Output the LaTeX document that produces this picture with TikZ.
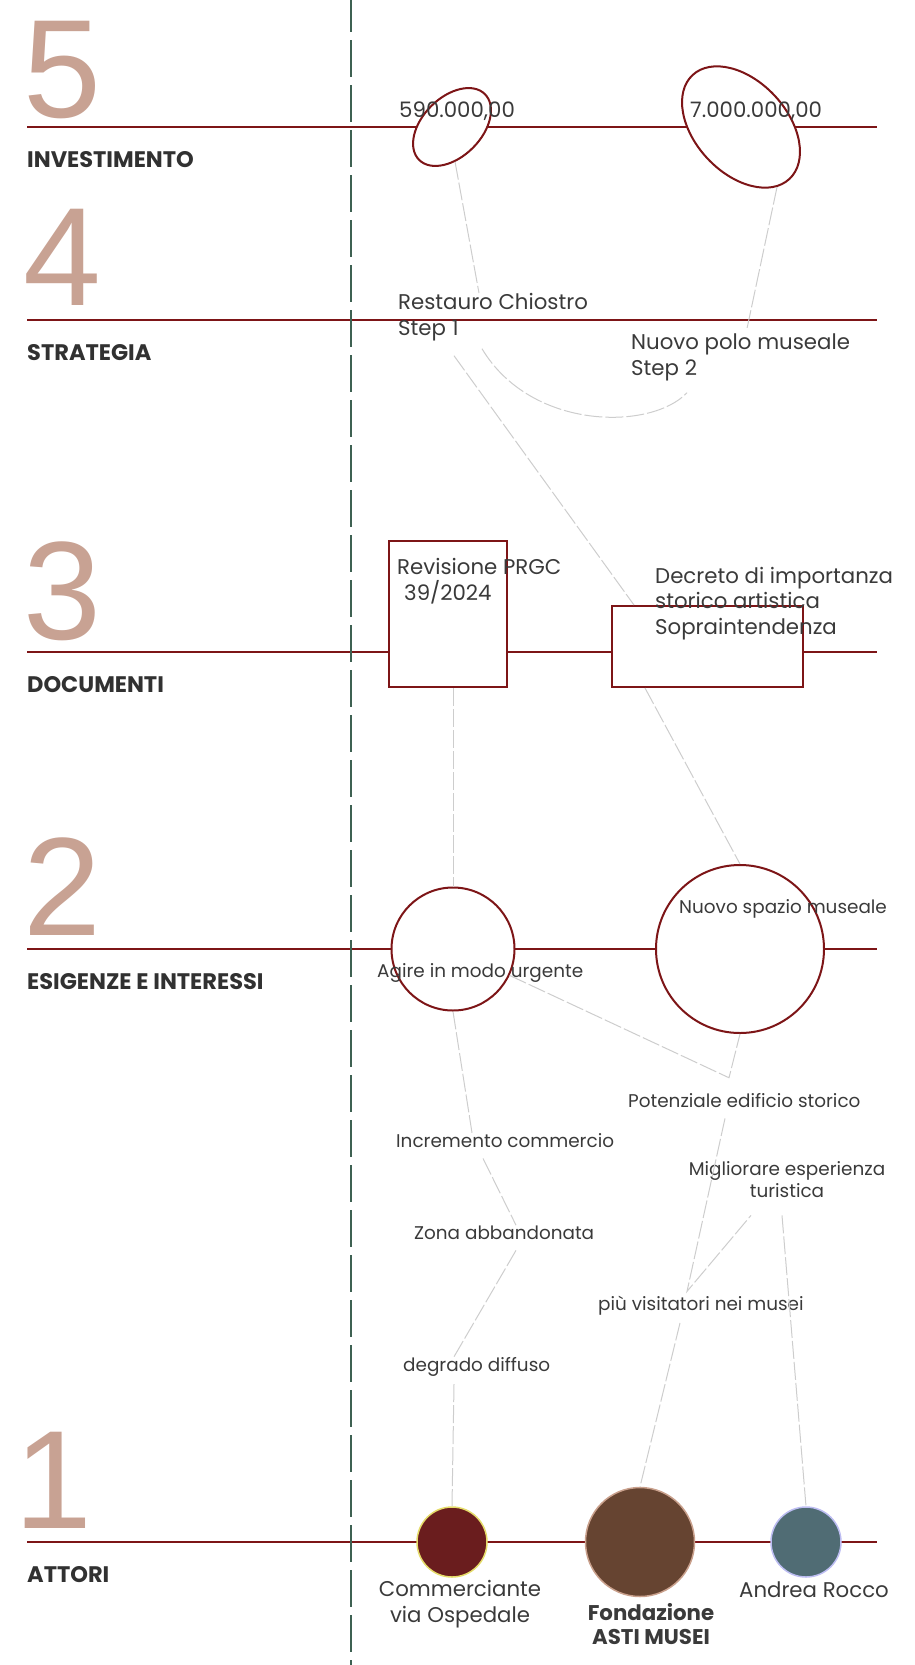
\documentclass[tikz,border=0pt]{standalone}
\usepackage{fontspec}
\setmainfont{Poppins}
\newfontfamily\digitfont{Liberation Sans}
\usepackage{xcolor}
\definecolor{levelred}{HTML}{7D1517}
\definecolor{digitrose}{HTML}{C8A293}
\definecolor{axisgreen}{HTML}{3E6152}
\definecolor{conngray}{HTML}{CDCDCD}
\definecolor{txtgray}{HTML}{3A3A3A}
\definecolor{shopfill}{HTML}{6A1D1E}
\definecolor{shopedge}{HTML}{E5DC6A}
\definecolor{museumfill}{HTML}{664431}
\definecolor{museumedge}{HTML}{C9A08C}
\definecolor{roccofill}{HTML}{506C74}
\definecolor{roccoedge}{HTML}{BDBDF2}
\usetikzlibrary{positioning,shapes.geometric,calc}

\tikzset{
	levelline/.style={draw=levelred, line width=2pt},
	axisdash/.style={draw=axisgreen, line width=2pt, dash pattern=on 37pt off 8pt, dash phase=5pt},
	conn/.style={draw=conngray, line width=1pt, dash pattern=on 18pt off 3pt},
	redshape/.style={draw=levelred, line width=2pt, fill=white, inner sep=0pt},
	actor/.style={circle, line width=1.5pt, inner sep=0pt},
	txt/.style={text=txtgray, inner sep=0pt, align=left, font=\fontsize{21.3}{25.5}\selectfont},
	smalltxt/.style={txt, font=\fontsize{18.4}{22}\selectfont},
	levelname/.style={text=txtgray!85!black, inner sep=0pt, anchor=base west, font=\fontsize{22.5}{26}\selectfont\bfseries},
	leveldigit/.style={text=digitrose, inner sep=0pt, anchor=base west, font=\digitfont\fontsize{140}{140}\selectfont},
}

\begin{document}
\begin{tikzpicture}[x=1pt, y=-1pt]
	\useasboundingbox (0,0) rectangle (915,1665);

	% livelli
	\foreach \yy/\yd/\xd/\num/\lab in {127/117/23/5/INVESTIMENTO, 320/305/23/4/STRATEGIA, 652/639/23/3/DOCUMENTI, 949/935/23/2/ESIGENZE E INTERESSI, 1542/1528/14/1/ATTORI} {
		\draw[levelline] (27,\yy) -- (877,\yy);
		\node[leveldigit] (digit\num) at (\xd,\yd) {\num};
		\node[levelname] (level\num) at (27,\yy+40) {\lab};
	}
	\draw[axisdash] (351,0) -- (351,1665);

	% forme
	\node[redshape, ellipse, minimum width=93pt, minimum height=59pt, rotate=45] (inv1) at (452,127) {};
	\node[redshape, ellipse, minimum width=142pt, minimum height=92pt, rotate=-47] (inv2) at (741,127) {};
	\node[redshape, rectangle, minimum width=118pt, minimum height=146pt] (doc1) at (448,614) {};
	\node[redshape, rectangle, minimum width=191pt, minimum height=81pt] (doc2) at (707.5,646.5) {};
	\node[redshape, circle, minimum size=123pt] (need1) at (453,949) {};
	\node[redshape, circle, minimum size=168pt] (need2) at (740,949) {};
	\node[actor, fill=shopfill, draw=shopedge, minimum size=70pt] (act1) at (452,1542) {};
	\node[actor, fill=museumfill, draw=museumedge, minimum size=109pt] (act2) at (640,1542) {};
	\node[actor, fill=roccofill, draw=roccoedge, minimum size=70pt] (act3) at (806,1542) {};

	% testi (base = ultima riga)
	\node[txt, anchor=base west] (cost1) at (399,117) {590.000,00};
	\node[txt, anchor=base west] (cost2) at (690,117) {7.000.000,00};
	\node[txt, anchor=base west] (strat1) at (398,335) {Restauro Chiostro\\Step 1};
	\node[txt, anchor=base west] (strat2) at (631,375) {Nuovo polo museale\\Step 2};
	\node[txt, anchor=base west] (doctxt1) at (397,600) {Revisione PRGC\\\hspace*{7pt}39/2024};
	\node[txt, anchor=base west] (doctxt2) at (655,634) {Decreto di importanza\\storico artistica\\Sopraintendenza};
	\node[smalltxt, anchor=base west] (needtxt1) at (377,977) {Agire in modo urgente};
	\node[smalltxt, anchor=base west] (needtxt2) at (679,913) {Nuovo spazio museale};
	\node[smalltxt, anchor=base west] (pot) at (628,1107) {Potenziale edificio storico};
	\node[smalltxt, anchor=base west] (incr) at (396,1147) {Incremento commercio};
	\node[smalltxt, anchor=base west] (zona) at (414,1239) {Zona abbandonata};
	\node[smalltxt, anchor=base west] (degr) at (403,1371) {degrado diffuso};
	\node[smalltxt, anchor=base, align=center] (migl) at (787,1197) {Migliorare esperienza\\turistica};
	\node[smalltxt, anchor=base west] (visit) at (598,1310) {più visitatori nei musei};
	\node[txt, anchor=base, align=center] (actlab1) at (460,1622) {Commerciante\\via Ospedale};
	\node[txt, anchor=base, align=center, font=\fontsize{21.3}{24}\selectfont\bfseries] (actlab2) at (651,1644) {Fondazione\\ASTI MUSEI};
	\node[txt, anchor=base] (actlab3) at (814,1597) {Andrea Rocco};

	% collegamenti
	\coordinate (potTop) at ([xshift=101pt, yshift=15pt]pot.north west);
	\coordinate (visTop) at ([xshift=89pt, yshift=4pt]visit.north west);
	\draw[conn] (inv1.-130) -- ([xshift=81pt]strat1.north west);
	\draw[conn] (inv2.-12) -- ([xshift=116pt, yshift=5pt]strat2.north west);
	\draw[conn] ([xshift=84pt, yshift=-8pt]strat1.south west) .. controls +(49,82) and +(-36,38) .. ([xshift=56pt, yshift=-12pt]strat2.south west);
	\draw[conn] ([xshift=56pt, yshift=-15pt]strat1.south west) -- ([xshift=23pt]doc2.north west);
	\draw[conn] (need1.north |- doc1.south) -- (need1.north);
	\draw[conn] ([xshift=34pt]doc2.south west) -- (need2.north);
	\draw[conn] (need1) -- (potTop) -- (need2.south);
	\draw[conn] ([xshift=97pt, yshift=-11pt]pot.south west) -- (visTop) -- ([xshift=-36pt, yshift=-18pt]migl.south);
	\draw[conn] ([xshift=82pt, yshift=-8pt]visit.south west) -- (act2.north);
	\draw[conn] ([xshift=-5pt, yshift=-18pt]migl.south) -- (act3.north);
	\draw[conn] (need1.south) -- ([xshift=76pt]incr.north west);
	\draw[conn] ([xshift=87pt, yshift=-11pt]incr.south west) -- ([xshift=102pt]zona.north west);
	\draw[conn] ([xshift=102pt, yshift=-11pt]zona.south west) -- ([xshift=51pt]degr.north west);
	\draw[conn] ([xshift=51pt, yshift=-8pt]degr.south west) -- (act1.north);
\end{tikzpicture}
\end{document}
